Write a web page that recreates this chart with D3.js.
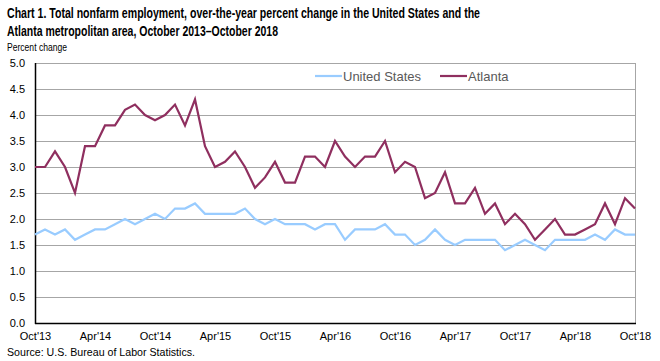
<!DOCTYPE html>
<html>
<head>
<meta charset="utf-8">
<script src="https://cdn.jsdelivr.net/npm/d3@7"></script>
<style>
  body { margin: 0; background: #fff; }
  svg { display: block; font-family: "Liberation Sans", Arial, sans-serif; }
</style>
</head>
<body>
<svg id="chart" width="660" height="361"></svg>
<script>
// monthly, Oct 2013 .. Oct 2018
var unitedStates = [1.7,1.8,1.7,1.8,1.6,1.7,1.8,1.8,1.9,2.0,1.9,2.0,
  2.1,2.0,2.2,2.2,2.3,2.1,2.1,2.1,2.1,2.2,2.0,1.9,
  2.0,1.9,1.9,1.9,1.8,1.9,1.9,1.6,1.8,1.8,1.8,1.9,
  1.7,1.7,1.5,1.6,1.8,1.6,1.5,1.6,1.6,1.6,1.6,1.4,
  1.5,1.6,1.5,1.4,1.6,1.6,1.6,1.6,1.7,1.6,1.8,1.7,1.7];
var atlanta = [3.0,3.0,3.3,3.0,2.5,3.4,3.4,3.8,3.8,4.1,4.2,4.0,
  3.9,4.0,4.2,3.8,4.3,3.4,3.0,3.1,3.3,3.0,2.6,2.8,
  3.1,2.7,2.7,3.2,3.2,3.0,3.5,3.2,3.0,3.2,3.2,3.5,
  2.9,3.1,3.0,2.4,2.5,2.9,2.3,2.3,2.6,2.1,2.3,1.9,
  2.1,1.9,1.6,1.8,2.0,1.7,1.7,1.8,1.9,2.3,1.9,2.4,2.2];
var xTickLabels = ["Oct'13","Apr'14","Oct'14","Apr'15","Oct'15","Apr'16","Oct'16","Apr'17","Oct'17","Apr'18","Oct'18"];
var yTicks = [0,0.5,1,1.5,2,2.5,3,3.5,4,4.5,5];

var svg = d3.select("#chart");
var plotLeft = 35, plotRight = 635, plotTop = 63, plotBottom = 323;

var x = d3.scaleLinear().domain([0, atlanta.length - 1]).range([plotLeft, plotRight]);
var y = d3.scaleLinear().domain([0, 5]).range([plotBottom, plotTop]);

// title
svg.append("text").attr("x", 7).attr("y", 18)
  .style("font-size", "14px").style("font-weight", "bold")
  .attr("textLength", 473).attr("lengthAdjust", "spacingAndGlyphs")
  .text("Chart 1. Total nonfarm employment, over-the-year percent change in the United States and the");
svg.append("text").attr("x", 7).attr("y", 36)
  .style("font-size", "14px").style("font-weight", "bold")
  .attr("textLength", 271).attr("lengthAdjust", "spacingAndGlyphs")
  .text("Atlanta metropolitan area, October 2013\u2013October  2018");
svg.append("text").attr("x", 7).attr("y", 51)
  .style("font-size", "11px")
  .attr("textLength", 60).attr("lengthAdjust", "spacingAndGlyphs")
  .text("Percent change");

// gridlines
svg.append("g").selectAll("line").data(yTicks.filter(function(d){ return d > 0; }))
  .enter().append("line")
  .attr("x1", plotLeft).attr("x2", plotRight)
  .attr("y1", function(d){ return y(d) + 0.5; }).attr("y2", function(d){ return y(d) + 0.5; })
  .attr("stroke", "#a6a6a6").attr("stroke-width", 1);
svg.append("line").attr("x1", plotRight + 0.5).attr("x2", plotRight + 0.5)
  .attr("y1", plotTop).attr("y2", plotBottom).attr("stroke", "#a6a6a6");

// y axis labels
var yAxis = d3.axisLeft(y).tickValues(yTicks).tickFormat(d3.format(".1f")).tickSize(0).tickPadding(10);
var gy = svg.append("g").attr("transform", "translate(" + plotLeft + ",0)").call(yAxis);
gy.select(".domain").remove();
gy.selectAll("text").style("font-size", "11px").style("font-family", "Liberation Sans, Arial, sans-serif").attr("fill", "#000");

// x axis labels
var xAxis = d3.axisBottom(x).tickValues(d3.range(0, 61, 6))
  .tickFormat(function(d, i){ return xTickLabels[i]; }).tickSize(0).tickPadding(9);
var gx = svg.append("g").attr("transform", "translate(0," + plotBottom + ")").call(xAxis);
gx.select(".domain").remove();
gx.selectAll("text").style("font-size", "11px").style("font-family", "Liberation Sans, Arial, sans-serif").attr("fill", "#000");

// axis lines
svg.append("line").attr("x1", plotLeft + 0.5).attr("x2", plotLeft + 0.5).attr("y1", plotTop).attr("y2", plotBottom + 1)
  .attr("stroke", "#000").attr("stroke-width", 1.5);
svg.append("line").attr("x1", plotLeft).attr("x2", plotRight + 1).attr("y1", plotBottom + 0.5).attr("y2", plotBottom + 0.5)
  .attr("stroke", "#000").attr("stroke-width", 1.5);

// series lines
var line = d3.line().x(function(d, i){ return x(i); }).y(function(d){ return y(d); });
svg.append("path").datum(unitedStates).attr("d", line)
  .attr("fill", "none").attr("stroke", "#99ccff").attr("stroke-width", 2.2);
svg.append("path").datum(atlanta).attr("d", line)
  .attr("fill", "none").attr("stroke", "#8f2f5f").attr("stroke-width", 2.2);

// legend
var legend = [
  {name: "United States", color: "#99ccff", x: 315},
  {name: "Atlanta", color: "#8f2f5f", x: 440}
];
var lg = svg.append("g").selectAll("g").data(legend).enter().append("g");
lg.append("line").attr("x1", function(d){ return d.x; }).attr("x2", function(d){ return d.x + 27; })
  .attr("y1", 76).attr("y2", 76).attr("stroke", function(d){ return d.color; }).attr("stroke-width", 2.2);
lg.append("text").attr("x", function(d){ return d.x + 28; }).attr("y", 81)
  .style("font-size", "13px").attr("fill", "#595959").text(function(d){ return d.name; });

// source
svg.append("text").attr("x", 7).attr("y", 356).style("font-size", "11px")
  .attr("textLength", 188).attr("lengthAdjust", "spacingAndGlyphs")
  .text("Source: U.S. Bureau of Labor Statistics.");
</script>
</body>
</html>
